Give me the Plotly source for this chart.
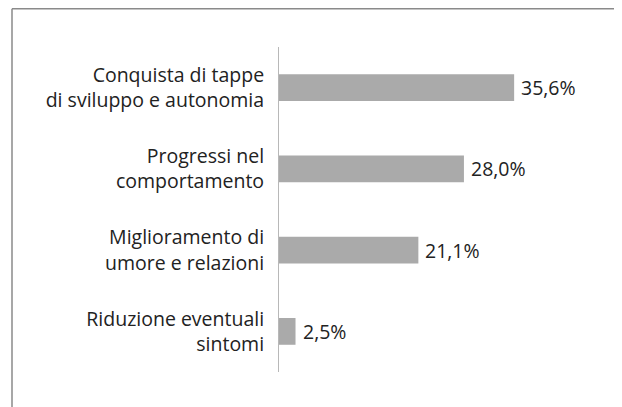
import plotly.graph_objects as go

categories = [
    "Conquista di tappe<br>di sviluppo e autonomia",
    "Progressi nel<br>comportamento",
    "Miglioramento di<br>umore e relazioni",
    "Riduzione eventuali<br>sintomi",
]
values = [35.6, 28.0, 21.1, 2.5]

FONT = "Open Sans"
FSIZE = 19.5
TXT = "#222222"

fig = go.Figure()
fig.add_trace(go.Bar(
    y=categories,
    x=values,
    orientation="h",
    marker=dict(color="#aaaaaa", line=dict(width=0)),
    width=0.33,
    hoverinfo="skip",
))

for c, v in zip(categories, values):
    fig.add_annotation(
        x=v, y=c, text=f"{v:.1f}%".replace(".", ","),
        xanchor="left", yanchor="middle", showarrow=False,
        xshift=5, font=dict(family=FONT, size=FSIZE, color=TXT),
    )

# page body adds an 8px offset; figure sized to fill the remaining window
W, H = 614, 399
L, R, T, B = 271, 22, 39, 35

frame = dict(color="#8a8a8a", width=1.5)

fig.update_layout(
    width=W, height=H,
    margin=dict(l=L, r=R, t=T, b=B, autoexpand=False),
    paper_bgcolor="white",
    plot_bgcolor="white",
    showlegend=False,
    separators=",.",
    font=dict(family=FONT, size=FSIZE, color=TXT),
    modebar=dict(bgcolor="rgba(0,0,0,0)", color="rgba(0,0,0,0)",
                 activecolor="rgba(0,0,0,0)"),
    xaxis=dict(range=[0, 48.6], visible=False, fixedrange=True),
    yaxis=dict(
        categoryorder="array", categoryarray=categories[::-1],
        autorange=False, range=[-0.5, 3.5],
        showline=True, linecolor="#b8b8b8", linewidth=1,
        ticks="", showgrid=False, zeroline=False,
        automargin=False, ticklabelstandoff=10,
        tickfont=dict(family=FONT, size=FSIZE, color=TXT),
    ),
    shapes=[
        # outer frame: left and top edges only (cut by the page)
        dict(type="line", xref="paper", yref="paper",
             xsizemode="pixel", ysizemode="pixel",
             xanchor=0, yanchor=1,
             x0=-(L - 4), x1=-(L - 4), y0=T - 0.75, y1=-H,
             line=frame, layer="above"),
        dict(type="line", xref="paper", yref="paper",
             xsizemode="pixel", ysizemode="pixel",
             xanchor=0, yanchor=1,
             x0=-(L - 4), x1=W - L, y0=T - 0.75, y1=T - 0.75,
             line=frame, layer="above"),
    ],
)

fig.write_html("out.html")
